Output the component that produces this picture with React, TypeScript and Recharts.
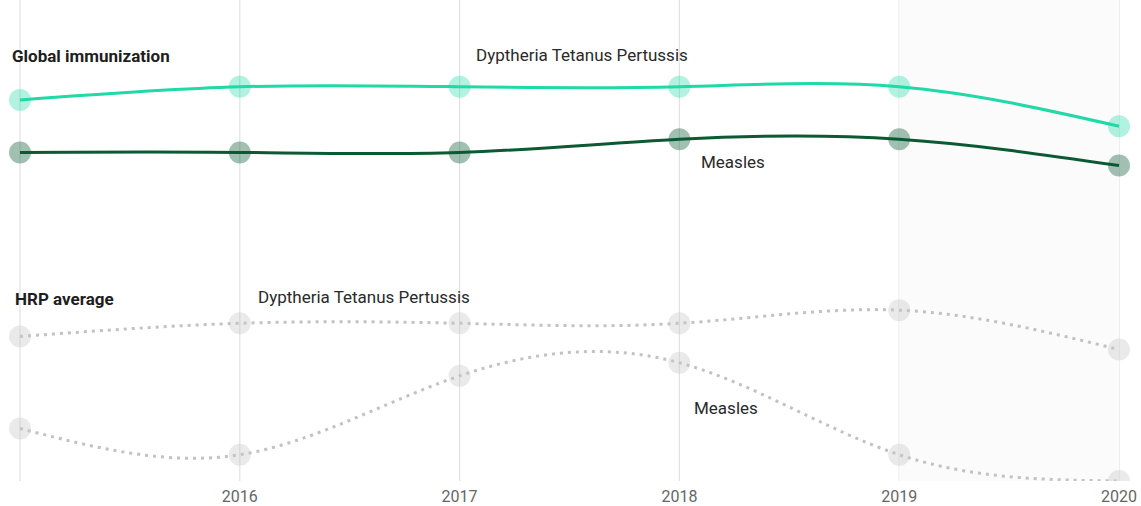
import React from "react";
import { LineChart, Line, XAxis, YAxis, CartesianGrid, ReferenceArea } from "recharts";

const years = [2015, 2016, 2017, 2018, 2019, 2020];
const globalDtp = [85, 86, 86, 86, 86, 83];
const globalMeasles = [81, 81, 81, 82, 82, 80];
const hrpDtp = [67, 68, 68, 68, 69, 66];
const hrpMeasles = [60, 58, 64, 65, 58, 56];
const tickYears = [2016, 2017, 2018, 2019, 2020];

const data = years.map((year, i) => ({
  year,
  globalDtp: globalDtp[i],
  globalMeasles: globalMeasles[i],
  hrpDtp: hrpDtp[i],
  hrpMeasles: hrpMeasles[i],
}));

const FONT = "Roboto, 'Noto Sans', sans-serif";

const makeDot = (fill: string, opacity: number) => (props: any) => {
  const { cx, cy, index } = props;
  if (cx == null || cy == null) return <g key={index} />;
  return <circle key={index} cx={cx} cy={cy} r={11} fill={fill} fillOpacity={opacity} />;
};

const labels = [
  { text: "Global immunization", left: 12, cy: 56, bold: true },
  { text: "Dyptheria Tetanus Pertussis", left: 476, cy: 55, bold: false },
  { text: "Measles", left: 701, cy: 162, bold: false },
  { text: "HRP average", left: 15, cy: 299, bold: true },
  { text: "Dyptheria Tetanus Pertussis", left: 258, cy: 297, bold: false },
  { text: "Measles", left: 694, cy: 408, bold: false },
];

export default function App() {
  return (
    <div style={{ position: "absolute", left: 0, top: 0, width: 1141, height: 506, background: "#fff", fontFamily: FONT }}>
      <LineChart width={1141} height={506} data={data} margin={{ top: 0, right: 22, bottom: 0, left: 20 }}>
        <ReferenceArea x1={2019} x2={2020} fill="#fbfbfc" fillOpacity={1} stroke="none" ifOverflow="extendDomain" />
        <CartesianGrid horizontal={false} stroke="#e2e2e2" strokeWidth={1.2} />
        <XAxis
          type="number"
          dataKey="year"
          domain={[2015, 2020]}
          ticks={tickYears}
          axisLine={false}
          tickLine={false}
          height={25}
          tickMargin={4}
          tick={{ fill: "#666", fontSize: 16, fontFamily: FONT }}
          interval={0}
        />
        <YAxis hide domain={[56, 92.6]} allowDataOverflow />
        <Line
          type="natural"
          dataKey="hrpDtp"
          stroke="#c2c2c2"
          strokeWidth={3}
          strokeDasharray="3 5"
          dot={makeDot("#c8c8c8", 0.38)}
          activeDot={false}
          isAnimationActive={false}
        />
        <Line
          type="natural"
          dataKey="hrpMeasles"
          stroke="#c2c2c2"
          strokeWidth={3}
          strokeDasharray="3 5"
          dot={makeDot("#c8c8c8", 0.38)}
          activeDot={false}
          isAnimationActive={false}
        />
        <Line
          type="natural"
          dataKey="globalMeasles"
          stroke="#0b5a34"
          strokeWidth={3}
          dot={makeDot("#0b5a34", 0.38)}
          activeDot={false}
          isAnimationActive={false}
        />
        <Line
          type="natural"
          dataKey="globalDtp"
          stroke="#1fd9a6"
          strokeWidth={3}
          dot={makeDot("#1fd9a6", 0.35)}
          activeDot={false}
          isAnimationActive={false}
        />
      </LineChart>
      {labels.map((l, i) => (
        <div
          key={i}
          style={{
            position: "absolute",
            left: l.left,
            top: l.cy - 10,
            lineHeight: "20px",
            fontSize: 17,
            fontWeight: l.bold ? 700 : 400,
            color: l.bold ? "#1e1e1e" : "#2a2a2a",
            whiteSpace: "nowrap",
            pointerEvents: "none",
          }}
        >
          {l.text}
        </div>
      ))}
    </div>
  );
}
